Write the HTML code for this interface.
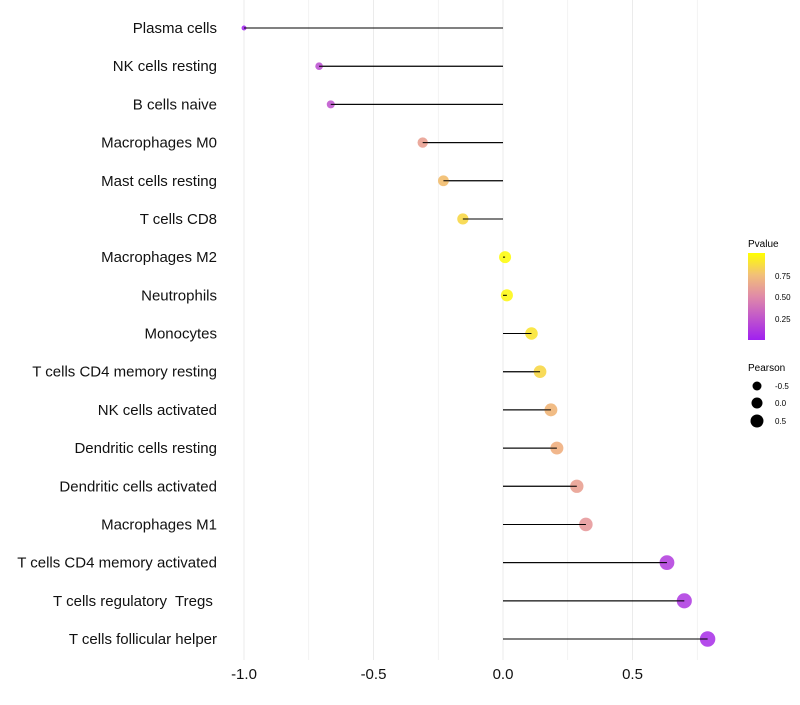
<!DOCTYPE html>
<html><head><meta charset="utf-8"><style>
body{margin:0;background:#fff;font-family:"Liberation Sans",sans-serif}
#ylab text{white-space:pre}
</style></head><body>
<svg id="chart" width="800" height="700">
<defs><linearGradient id="pg" x1="0" y1="1" x2="0" y2="0">
<stop offset="0" stop-color="#a020f0"/><stop offset="0.5" stop-color="#e08aa8"/><stop offset="0.75" stop-color="#f2c078"/><stop offset="1" stop-color="#ffff00"/></linearGradient></defs>
<g id="grid"></g><g id="marks"></g><g id="ylab"></g><g id="xlab"></g>
<g>
<text x="748" y="247" font-size="10">Pvalue</text>
<rect x="748" y="253" width="17" height="87" fill="url(#pg)"/>
<text x="775" y="279" font-size="8">0.75</text>
<text x="775" y="300" font-size="8">0.50</text>
<text x="775" y="322" font-size="8">0.25</text>
</g>
<g>
<text x="748" y="371" font-size="10">Pearson</text>
<circle cx="757" cy="386" r="4.5"/><text x="775" y="389" font-size="8">-0.5</text>
<circle cx="757" cy="403" r="5.5"/><text x="775" y="406" font-size="8">0.0</text>
<circle cx="757" cy="421" r="6.5"/><text x="775" y="424" font-size="8">0.5</text>
</g>
</svg>
<script>
const categories=["Plasma cells","NK cells resting","B cells naive","Macrophages M0","Mast cells resting","T cells CD8","Macrophages M2","Neutrophils","Monocytes","T cells CD4 memory resting","NK cells activated","Dendritic cells resting","Dendritic cells activated","Macrophages M1","T cells CD4 memory activated","T cells regulatory  Tregs ","T cells follicular helper"];
const pearson=[-1.0,-0.71,-0.665,-0.31,-0.23,-0.155,0.008,0.015,0.11,0.143,0.185,0.208,0.285,0.32,0.633,0.70,0.79];
const pvalue=[0.0,0.2,0.22,0.6,0.75,0.85,0.99,0.97,0.9,0.85,0.72,0.7,0.6,0.55,0.12,0.1,0.05];
const xTicks=[-1.0,-0.5,0.0,0.5];
const xTickLabels=["-1.0","-0.5","0.0","0.5"];
const gridVals=[-1,-0.75,-0.5,-0.25,0,0.25,0.5,0.75];
const NS="http://www.w3.org/2000/svg";
const xs=v=>503+v*259;
const ys=i=>28+i*(611/16);
const rs=v=>Math.sqrt(Math.max(4,36+30*v));
function lerp(a,b,t){return a.map((x,i)=>Math.round(x+(b[i]-x)*t));}
function col(p){const st=[[0,[160,32,240]],[0.5,[226,140,160]],[0.7,[238,170,120]],[1,[255,255,0]]];
for(let k=1;k<st.length;k++){if(p<=st[k][0]){const t=(p-st[k-1][0])/(st[k][0]-st[k-1][0]);const c=lerp(st[k-1][1],st[k][1],t);return `rgb(${c})`;}}return "rgb(255,255,0)";}
function mk(t,a,parent){const e=document.createElementNS(NS,t);for(const k in a)e.setAttribute(k,a[k]);parent.appendChild(e);return e;}
const grid=document.getElementById('grid'),marks=document.getElementById('marks'),ylab=document.getElementById('ylab'),xlab=document.getElementById('xlab');
gridVals.forEach(v=>{const l=mk('line',{x1:xs(v),x2:xs(v),y1:0,y2:660,stroke:'#ebebeb','stroke-width':xTicks.includes(v)?1:0.6},grid);

});
categories.forEach((c,i)=>{const y=ys(i);
const ln=mk('line',{x1:xs(0),x2:xs(pearson[i]),y1:y,y2:y,stroke:'#000','stroke-width':1},marks);


const ci=mk('circle',{cx:xs(pearson[i]),cy:y,r:rs(pearson[i]),fill:col(pvalue[i]),'fill-opacity':0.85},marks);


const s=mk('line',{x1:xs(0),x2:xs(pearson[i]),y1:y,y2:y,stroke:'#000','stroke-width':1},marks);


const t=mk('text',{x:217,y:y+5,'text-anchor':'end','font-size':15,fill:'#111'},ylab);t.textContent=c;

});
xTicks.forEach((v,i)=>{const t=mk('text',{x:xs(v),y:679,'text-anchor':'middle','font-size':15,fill:'#111'},xlab);t.textContent=xTickLabels[i];

});
</script>
</body></html>
